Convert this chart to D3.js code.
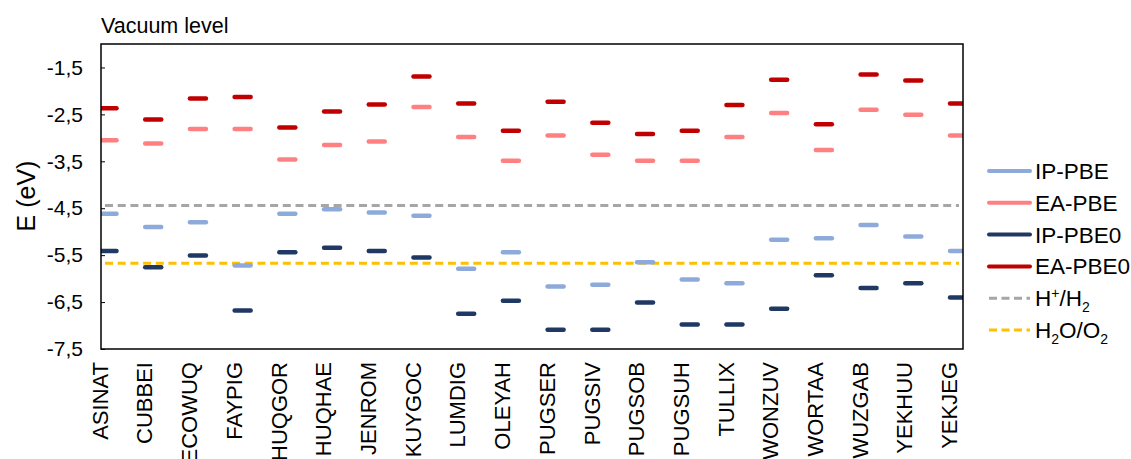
<!DOCTYPE html>
<html>
<head>
<meta charset="utf-8">
<script src="https://cdn.jsdelivr.net/npm/d3@7"></script>
<style>
  body { margin: 0; background: #fff; }
  text { font-family: "Liberation Sans", Arial, sans-serif; fill: #000; }
</style>
</head>
<body>
<div id="chart"></div>
<script>
const categories = ["ASINAT", "CUBBEI", "ECOWUQ", "FAYPIG", "HUQGOR", "HUQHAE", "JENROM", "KUYGOC", "LUMDIG", "OLEYAH",
    "PUGSER", "PUGSIV", "PUGSOB", "PUGSUH", "TULLIX", "WONZUV", "WORTAA", "WUZGAB", "YEKHUU", "YEKJEG"];
const ipPBE   = [-4.62, -4.90, -4.80, -5.72, -4.62, -4.52, -4.59, -4.66, -5.79, -5.44,
    -6.17, -6.13, -5.65, -6.02, -6.10, -5.17, -5.14, -4.86, -5.10, -5.41];
const eaPBE   = [-3.05, -3.12, -2.81, -2.81, -3.46, -3.15, -3.08, -2.34, -2.98, -3.49,
    -2.95, -3.36, -3.49, -3.49, -2.98, -2.47, -3.26, -2.40, -2.51, -2.95];
const ipPBE0  = [-5.41, -5.76, -5.51, -6.68, -5.44, -5.34, -5.41, -5.55, -6.75, -6.47,
    -7.09, -7.09, -6.51, -6.98, -6.98, -6.64, -5.93, -6.20, -6.10, -6.40];
const eaPBE0  = [-2.37, -2.61, -2.16, -2.13, -2.78, -2.44, -2.29, -1.69, -2.27, -2.85,
    -2.23, -2.68, -2.92, -2.85, -2.30, -1.76, -2.71, -1.65, -1.78, -2.27];
const hLevel = -4.44;   // H+/H2
const oLevel = -5.67;   // H2O/O2
const yTicks = [-1.5, -2.5, -3.5, -4.5, -5.5, -6.5, -7.5];

const series = [
    { name: "IP-PBE", values: ipPBE, color: "#8eaadb" },
    { name: "EA-PBE", values: eaPBE, color: "#ff8080" },
    { name: "IP-PBE0", values: ipPBE0, color: "#1f3864" },
    { name: "EA-PBE0", values: eaPBE0, color: "#c00000" }
];

const svg = d3.select("#chart").append("svg").attr("width", 1131).attr("height", 459);
const m = { left: 101, right: 963, top: 44, bottom: 349 };

const x = d3.scalePoint().domain(categories).range([108.5, 958]);
const y = d3.scaleLinear().domain([-7.5, -1.0]).range([m.bottom, m.top]);

svg.append("defs").append("clipPath").attr("id", "plot-clip")
    .append("rect").attr("x", m.left).attr("y", m.top).attr("width", m.right - m.left).attr("height", m.bottom - m.top);

// y axis (ticks point inward)
const yAxis = svg.append("g")
    .attr("transform", `translate(${m.left},0)`)
    .call(d3.axisLeft(y).tickValues(yTicks).tickSizeInner(-4).tickSizeOuter(0).tickPadding(18)
        .tickFormat(d => d.toFixed(1).replace(".", ",")));
yAxis.select(".domain").remove();
yAxis.selectAll("line").attr("stroke", "#000").attr("stroke-width", 1);
yAxis.selectAll("text").style("font-size", "21px").attr("font-family", null);

// x axis labels
const xAxis = svg.append("g")
    .attr("transform", `translate(0,${m.bottom})`)
    .call(d3.axisBottom(x).tickSize(0));
xAxis.select(".domain").remove();
xAxis.selectAll("text")
    .style("font-size", "22px")
    .attr("font-family", null)
    .attr("transform", "rotate(-90)")
    .style("text-anchor", "end")
    .attr("x", -13)
    .attr("y", -9)
    .attr("dy", "0.35em");

// reference levels
const plot = svg.append("g").attr("clip-path", "url(#plot-clip)");
[{ v: hLevel, c: "#a6a6a6" }, { v: oLevel, c: "#ffc000" }].forEach(l => {
    plot.append("line")
        .attr("x1", m.left + 4).attr("x2", m.right - 4)
        .attr("y1", y(l.v)).attr("y2", y(l.v))
        .attr("stroke", l.c).attr("stroke-width", 3)
        .attr("stroke-dasharray", "8,4.7");
});

// energy levels
series.forEach(s => {
    plot.selectAll(null)
        .data(s.values)
        .enter().append("line")
        .attr("x1", (d, i) => x(categories[i]) - 8)
        .attr("x2", (d, i) => x(categories[i]) + 8)
        .attr("y1", d => y(d))
        .attr("y2", d => y(d))
        .attr("stroke", s.color)
        .attr("stroke-width", 4.5)
        .attr("stroke-linecap", "round");
});

// frame
svg.append("rect")
    .attr("x", m.left).attr("y", m.top).attr("width", m.right - m.left).attr("height", m.bottom - m.top)
    .attr("fill", "none").attr("stroke", "#000").attr("stroke-width", 1.5);

svg.append("text").attr("x", 101).attr("y", 33).style("font-size", "21.5px").text("Vacuum level");

svg.append("text")
    .attr("transform", "translate(35,196) rotate(-90)")
    .style("text-anchor", "middle")
    .style("font-size", "25px")
    .text("E (eV)");

// legend; label parts are [text, shift] with shift = baseline offset
const legendItems = [
    ...series.map(s => ({ label: [[s.name, 0]], color: s.color, dash: null })),
    { label: [["H", 0], ["+", -8], ["/H", 0], ["2", 6]], color: "#a6a6a6", dash: "8,4.5" },
    { label: [["H", 0], ["2", 6], ["O/O", 0], ["2", 6]], color: "#ffc000", dash: "8,4.5" }
];
const legend = svg.append("g");
legendItems.forEach((item, i) => {
    const ly = 171 + i * 31.8;
    legend.append("line")
        .attr("x1", 989).attr("x2", 1030).attr("y1", ly).attr("y2", ly)
        .attr("stroke", item.color)
        .attr("stroke-width", item.dash ? 3 : 4)
        .attr("stroke-linecap", item.dash ? "butt" : "round")
        .attr("stroke-dasharray", item.dash);
    const t = legend.append("text").attr("x", 1035).attr("y", ly + 8).style("font-size", "22.5px");
    let prev = 0;
    item.label.forEach(([str, shift]) => {
        const ts = t.append("tspan").text(str).attr("dy", shift - prev);
        if (shift !== 0) ts.style("font-size", "14px");
        prev = shift;
    });
});
</script>
</body>
</html>
